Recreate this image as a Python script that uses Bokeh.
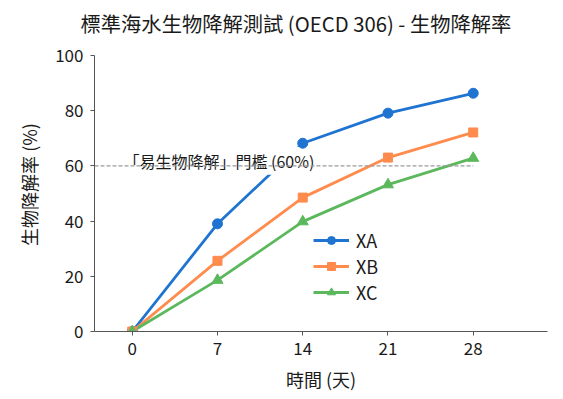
from bokeh.plotting import figure
from bokeh.models import Range1d, FixedTicker, Legend, LegendItem, ColumnDataSource
from bokeh.core.properties import value
from bokeh.embed import file_html
from bokeh.resources import INLINE

# ---- data ----
days = [0, 7, 14, 21, 28]
xa = [0, 39.0, 68.2, 79.1, 86.3]
xb = [0, 25.6, 48.5, 63.0, 72.1]
xc = [0, 18.6, 39.8, 53.2, 62.8]
series_names = ["XA", "XB", "XC"]
threshold = 60
y_ticks = [0, 20, 40, 60, 80, 100]
title_text = "標準海水生物降解測試 (OECD 306) - 生物降解率"
x_label = "時間 (天)"
y_label = "生物降解率 (%)"
threshold_label = "「易生物降解」門檻 (60%)"

FONT = "Noto Sans CJK TC"
colors = ["#1f74d1", "#ff8b4d", "#5cb85c"]
markers = ["circle", "square", "triangle"]
sizes = [10, 9, 11]

x_start, x_end = -3.1, 34.1
y_min, y_max = 0, 100
y_view_end = 106.5   # a little headroom above the axis for the title panel

p = figure(width=556, height=394,
           x_range=Range1d(x_start, x_end), y_range=Range1d(y_min, y_view_end),
           output_backend="svg", toolbar_location=None,
           min_border_left=94, min_border_right=9,
           min_border_top=37, min_border_bottom=63)

p.title.text = title_text
p.title.text_font = FONT
p.title.text_font_size = "20.3px"
p.title.text_font_style = "normal"
p.title.text_color = "#1a1a1a"
p.title.align = "left"
p.title.offset = -14
p.title.vertical_align = "bottom"
p.title.standoff = 0

p.outline_line_color = None
p.xgrid.visible = False
p.ygrid.visible = False

p.xaxis.ticker = FixedTicker(ticks=days)
p.yaxis.ticker = FixedTicker(ticks=y_ticks)
p.yaxis.bounds = (y_min, y_max)
p.xaxis.axis_label = x_label
p.yaxis.axis_label = y_label
for ax in (p.xaxis, p.yaxis):
    ax.axis_line_color = "#555555"
    ax.major_tick_line_color = "#555555"
    ax.major_tick_out = 4
    ax.major_tick_in = 0
    ax.minor_tick_line_color = None
    ax.major_label_text_font = FONT
    ax.major_label_text_font_size = "17px"
    ax.major_label_text_color = "#1a1a1a"
    ax.axis_label_text_font = FONT
    ax.axis_label_text_font_size = "18px"
    ax.axis_label_text_font_style = "normal"
    ax.axis_label_text_color = "#1a1a1a"
p.xaxis.major_label_standoff = 6
p.yaxis.major_label_standoff = 7
p.xaxis.axis_label_standoff = 8
p.yaxis.axis_label_standoff = 10

series = [xa, xb, xc]
sources = [ColumnDataSource(dict(day=days, val=v)) for v in series]

line_rs = []
for src, c in zip(sources, colors):
    line_rs.append(p.line("day", "val", source=src, line_width=2.8, line_color=c))

# threshold label with white background
p.text(x=[x_start], y=[threshold], text=[threshold_label],
       x_offset=27, y_offset=-5,
       text_font=value(FONT), text_font_size=value("16px"), text_color="#1a1a1a",
       text_align="left", text_baseline="alphabetic",
       background_fill_color="white", padding=2)

# threshold dashed line
p.line(x=[x_start, days[-1]], y=[threshold, threshold],
       line_dash="4 2", line_color="#9a9a9a", line_width=1.2)

scatter_rs = []
for src, c, m, s in zip(sources, colors, markers, sizes):
    scatter_rs.append(p.scatter("day", "val", source=src, marker=m, size=s,
                                fill_color=c, line_color=c))

legend = Legend(items=[LegendItem(label=n, renderers=[l, s])
                       for n, l, s in zip(series_names, line_rs, scatter_rs)],
                location=(219, 26))
legend.label_text_font = FONT
legend.label_text_font_size = "18px"
legend.label_text_color = "#1a1a1a"
legend.glyph_width = 36
legend.glyph_height = 20
legend.label_height = 20
legend.spacing = 0
legend.padding = 6
legend.margin = 0
legend.label_standoff = 7
legend.border_line_color = None
legend.background_fill_color = "white"
legend.background_fill_alpha = 1
p.add_layout(legend)

open("out.html", "w").write(file_html(p, INLINE))
